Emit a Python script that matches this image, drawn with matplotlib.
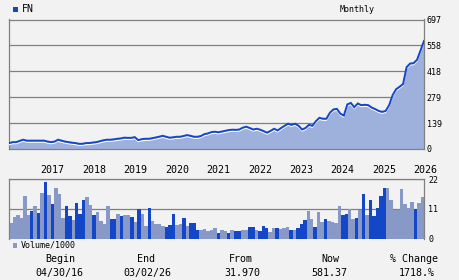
import numpy as np
import matplotlib
matplotlib.use("Agg")
import matplotlib.pyplot as plt
from matplotlib.patches import Rectangle
import matplotlib.transforms as mtransforms

# ---------------- data ----------------
ticker = "FN"
period = "Monthly"

price = [32, 37, 37, 44, 50, 45, 45, 45, 45, 45, 45, 40,
         37, 40, 50, 45, 40, 37, 34, 32, 28, 28, 32, 32,
         35, 37, 42, 47, 50, 50, 52, 55, 57, 61, 60, 60,
         64, 48, 53, 55, 55, 58, 62, 66, 71, 66, 61, 63,
         66, 66, 70, 75, 71, 66, 66, 70, 80, 84, 91, 93,
         90, 94, 98, 102, 104, 103, 105, 115, 120, 113, 105, 109,
         104, 96, 88, 98, 109, 100, 113, 125, 136, 130, 136, 125,
         105, 113, 130, 125, 150, 168, 163, 163, 195, 213, 216, 190,
         180, 240, 248, 225, 245, 236, 238, 236, 223, 215, 205, 200,
         205, 236, 290, 322, 335, 350, 440, 460, 462, 480, 530, 581.37]

volume = [5.9, 8.0, 8.8, 7.7, 15.8, 8.8, 10.3, 12.1, 9.5, 16.9, 21.0, 16.2,
          12.9, 18.8, 16.6, 7.7, 12.1, 8.4, 6.9, 13.2, 9.1, 14.3, 15.4, 12.5,
          8.8, 9.9, 6.5, 5.4, 12.1, 7.4, 7.4, 9.1, 8.4, 8.8, 8.8, 8.0,
          6.2, 11.0, 9.1, 4.7, 11.4, 6.5, 5.4, 5.4, 4.7, 4.3, 5.1, 9.1,
          5.1, 5.4, 7.7, 4.7, 5.8, 5.8, 3.2, 3.2, 3.6, 2.8, 3.2, 4.0,
          2.1, 3.2, 2.8, 2.1, 3.2, 2.8, 2.8, 3.2, 3.2, 4.3, 4.3, 3.2,
          2.8, 4.7, 4.0, 2.5, 4.0, 4.0, 3.6, 3.9, 4.3, 3.2, 3.2, 4.0,
          5.4, 6.9, 10.3, 7.3, 4.3, 9.9, 6.2, 7.3, 6.5, 6.2, 5.8, 12.1,
          8.8, 9.1, 11.0, 7.3, 7.7, 10.6, 16.6, 8.8, 14.3, 8.4, 11.4, 15.8,
          18.8, 18.8, 14.3, 10.6, 10.6, 18.4, 12.9, 11.4, 13.6, 11.0, 13.2, 15.4]

vol_up = [0, 0, 0, 0, 0, 0, 1, 0, 1, 0, 1, 0,
          1, 0, 0, 0, 1, 1, 0, 1, 1, 1, 0, 0,
          1, 0, 0, 0, 0, 1, 1, 0, 1, 0, 0, 1,
          0, 1, 0, 0, 1, 0, 0, 0, 0, 1, 1, 1,
          0, 0, 1, 0, 1, 1, 1, 0, 0, 0, 0, 0,
          1, 0, 0, 1, 0, 1, 1, 0, 0, 1, 1, 0,
          1, 1, 1, 0, 0, 1, 0, 0, 0, 1, 0, 1,
          1, 1, 0, 0, 1, 0, 0, 1, 0, 0, 0, 0,
          1, 1, 0, 0, 1, 0, 1, 0, 1, 1, 1, 1,
          1, 0, 0, 0, 0, 0, 0, 0, 0, 1, 0, 0]

years = ["2017", "2018", "2019", "2020", "2021", "2022", "2023", "2024", "2025", "2026"]
year_start_idx = [9, 21, 33, 45, 57, 69, 81, 93, 105, 117]

price_max = 697
price_tick_labels = ["0", "139", "279", "418", "558", "697"]
vol_max = 22
vol_tick_labels = ["0", "11", "22"]

summary_heads = ["Begin", "End", "From", "Now", "% Change"]
summary_vals = ["04/30/16", "03/02/26", "31.970", "581.37", "1718.%"]

# ---------------- style ----------------
BG = "#f2f2f2"
DARK = "#1446c8"
LIGHT = "#8899c8"
FILL = "#9eb1dd"
GRAY = "#808080"
MONO = "DejaVu Sans Mono"

W, H = 460, 280
fig = plt.figure(figsize=(W / 100, H / 100), dpi=100, facecolor=BG)


def fx(x):
    return x / W


def fy(y):
    return 1 - y / H


n = len(price)
idx = np.arange(n)

# ---------------- price panel ----------------
L, R = 9.3, 424.0
ax1 = fig.add_axes([fx(L), fy(149), fx(R) - fx(L), fy(19.5) - fy(149)])
ax1.set_facecolor(BG)
ax1.fill_between(idx, 0, price, color=FILL, linewidth=0, zorder=2)
white_off = mtransforms.offset_copy(ax1.transData, fig=fig, x=0, y=-1.6, units="dots")
ax1.plot(idx, price, color="white", lw=0.8, transform=white_off, zorder=3)
ax1.plot(idx, price, color=DARK, lw=1.4, zorder=4, solid_joinstyle="miter")
ax1.set_xlim(0, n - 1)
ax1.set_ylim(0, price_max)
pticks = np.linspace(0, price_max, len(price_tick_labels))
ax1.set_yticks(pticks)
ax1.set_yticklabels(price_tick_labels, fontfamily=MONO, fontsize=6)
ax1.yaxis.tick_right()
ax1.tick_params(axis="y", length=0, pad=2)
ax1.set_xticks([])
ax1.grid(axis="y", color=GRAY, lw=0.9, zorder=1)
for s in ax1.spines.values():
    s.set_color(GRAY)
    s.set_linewidth(0.9)

# ---------------- volume panel ----------------
ax2 = fig.add_axes([fx(L), fy(238.7), fx(R) - fx(L), fy(179.3) - fy(238.7)])
ax2.set_facecolor(BG)
colors = [DARK if u else LIGHT for u in vol_up]
ax2.bar(idx, volume, width=1.0, color=colors, linewidth=0, zorder=2)
ax2.set_xlim(-0.5, n - 0.5)
ax2.set_ylim(0, vol_max)
vticks = np.linspace(0, vol_max, len(vol_tick_labels))
ax2.set_yticks(vticks)
ax2.set_yticklabels(vol_tick_labels, fontfamily=MONO, fontsize=6)
ax2.yaxis.tick_right()
ax2.tick_params(axis="y", length=0, pad=3)
ax2.set_xticks([])
ax2.grid(axis="y", color=GRAY, lw=0.9, zorder=1)
for k, s in ax2.spines.items():
    s.set_color(GRAY)
    s.set_linewidth(0.9)
ax2.spines["bottom"].set_visible(False)

# year labels (left-aligned at January of each year)
ytr = mtransforms.blended_transform_factory(ax2.transData, ax2.transAxes)
for yr, i0 in zip(years, year_start_idx):
    ax2.text(i0 - 0.5, 1 + 9.3 / 59.4, yr, transform=ytr, ha="left", va="center",
             fontfamily=MONO, fontsize=7.2, color="black")

# ---------------- header texts ----------------
fig.patches.append(Rectangle((fx(12.7), fy(12)), fx(5), 5 / H, transform=fig.transFigure,
                             facecolor=DARK, edgecolor="none"))
fig.text(fx(22), fy(9), ticker, ha="left", va="center", fontfamily=MONO, fontsize=7.2)
fig.text(fx(357), fy(9), period, ha="center", va="center", fontfamily=MONO, fontsize=6)

# volume legend
fig.patches.append(Rectangle((fx(12.7), fy(248)), fx(4.7), 4.7 / H, transform=fig.transFigure,
                             facecolor=LIGHT, edgecolor="none"))
fig.text(fx(20.7), fy(245.5), "Volume/1000", ha="left", va="center", fontfamily=MONO, fontsize=6)

# summary
head_x = [60, 146, 241, 330, 414]
val_x = [59, 147, 242, 329.5, 417]
for hx, vx, h, v in zip(head_x, val_x, summary_heads, summary_vals):
    fig.text(fx(hx), fy(259.3), h, ha="center", va="center", fontfamily=MONO, fontsize=7.2)
    fig.text(fx(vx), fy(273.3), v, ha="center", va="center", fontfamily=MONO, fontsize=7.2)

fig.savefig("out.png", dpi=100, facecolor=BG)
